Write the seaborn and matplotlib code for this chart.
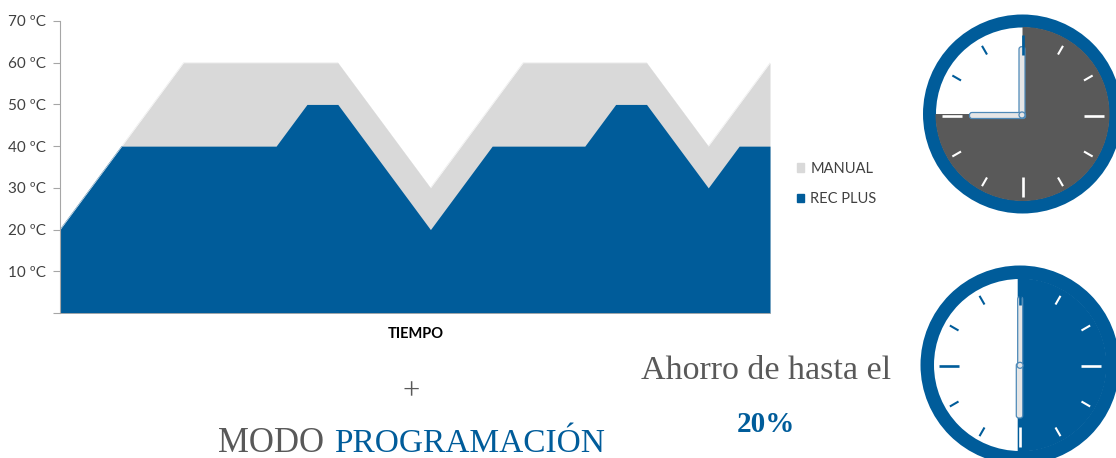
import numpy as np
import pandas as pd
import seaborn as sns
import matplotlib.pyplot as plt
from matplotlib.patches import Circle, Wedge, FancyBboxPatch, Patch

# temperature per time step
rec_plus = [20, 30, 40, 40, 40, 40, 40, 40, 50, 50, 40, 30, 20, 30, 40, 40, 40, 40, 50, 50, 40, 30, 40, 40]
manual = [20, 30, 40, 50, 60, 60, 60, 60, 60, 60, 50, 40, 30, 40, 50, 60, 60, 60, 60, 60, 50, 40, 50, 60]
y_ticks = [10, 20, 30, 40, 50, 60, 70]
hours = list(range(12))

BLUE = "#005c9a"
LIGHT = "#d9d9d9"
DARK = "#595959"
W, H = 1116, 458

sns.set_theme(style="white")
plt.rcParams["font.family"] = ["Lato", "DejaVu Sans"]

df = pd.DataFrame({"t": range(len(rec_plus)), "MANUAL": manual, "REC PLUS": rec_plus})
long_df = df.melt(id_vars="t", var_name="serie", value_name="temp")

fig = plt.figure(figsize=(W / 100, H / 100), dpi=100)
ax = fig.add_axes([60 / W, 1 - 313 / H, 710 / W, 292 / H])

sns.lineplot(data=long_df, x="t", y="temp", hue="serie", palette=[LIGHT, BLUE],
             linewidth=0.2, legend=False, ax=ax, zorder=0.5)
ax.fill_between(df["t"], 0, df["MANUAL"], color=LIGHT, linewidth=0, zorder=1)
ax.fill_between(df["t"], 0, df["REC PLUS"], color=BLUE, linewidth=0, zorder=1.1)

ax.set_xlim(0, len(rec_plus) - 1)
ax.set_ylim(0, 70)
ax.set_xticks([])
ax.set_yticks([0] + y_ticks)
ax.set_yticklabels([""] + [f"{v} ºC" for v in y_ticks], fontsize=11, color="#404040")
ax.tick_params(axis="y", left=True, length=5, width=0.8, color="#a6a6a6", pad=5)
ax.set_xlabel("")
ax.set_ylabel("")
sns.despine(ax=ax)
ax.spines["left"].set_color("#a6a6a6")
ax.spines["left"].set_linewidth(0.8)
ax.spines["bottom"].set_color("#a6a6a6")
ax.spines["bottom"].set_linewidth(0.6)

# overlay in pixel coordinates for the clocks and free text
ov = fig.add_axes([0, 0, 1, 1], facecolor="none")
ov.set_xlim(0, W)
ov.set_ylim(H, 0)
ov.axis("off")


def draw_clock(cx, cy, r_out, r_in, fill, end_angle, wedge_dx, tick_dy, hands, pin):
    ov.add_patch(Circle((cx, cy), r_out, color=BLUE, lw=0))
    ov.add_patch(Circle((cx, cy), r_in, color="white", lw=0))
    w = Wedge((cx + wedge_dx, cy), r_in + 5, -90, end_angle, color=fill, lw=0)
    ov.add_patch(w)
    w.set_clip_path(Circle((cx, cy), r_in + 0.5, transform=ov.transData))
    for h in hours:
        a = np.radians(h * 30)
        major = h % 3 == 0
        r0 = 61 if major else 71
        col = "white" if 0 < h * 30 <= end_angle + 90 else BLUE
        ov.plot([cx + r0 * np.sin(a), cx + 81 * np.sin(a)],
                [cy + tick_dy - r0 * np.cos(a), cy + tick_dy - 81 * np.cos(a)],
                color=col, lw=1.9 if major else 1.5, solid_capstyle="butt")
    for x0, y0, bw, bh in hands:
        ov.add_patch(FancyBboxPatch((cx + x0, cy + y0), bw, bh,
                                    boxstyle="round,pad=0,rounding_size=2.5",
                                    fc="#e6e6e6", ec="#4f8ab8", lw=0.9))
    ov.add_patch(Circle((cx + pin[0], cy + pin[1]), 3, fc="#e6e6e6", ec="#4f8ab8", lw=0.9))


draw_clock(1022.5, 114, 99.5, 86.5, DARK, 180, 0, 2,
           [(-3.5, -67.3, 6, 71.5), (-53, -1.5, 56, 6)], (-0.5, 1))
draw_clock(1020, 365, 99.5, 86, BLUE, 90, -2.3, 1,
           [(-2.3, -68.3, 5, 68), (-3.7, -2, 6.4, 55)], (0, 0.3))

# legend
handles = [Patch(color=LIGHT, label="MANUAL"), Patch(color=BLUE, label="REC PLUS")]
leg = fig.legend(handles=handles, loc="center left", bbox_to_anchor=(783.5 / W, 1 - 184 / H),
                 frameon=False, fontsize=10.5, labelcolor="#404040", handlelength=0.5,
                 handleheight=0.5, handletextpad=0.45, labelspacing=1.15)

fig.text(415.5 / W, 1 - 334 / H, "TIEMPO", ha="center", va="center",
         fontsize=10.5, fontweight="bold", color="black")
serif = "Liberation Serif"
fig.text(411 / W, 1 - 392 / H, "+", ha="center", va="center", fontsize=22,
         color=DARK, family=serif)
fig.text(218 / W, 1 - 452 / H, "MODO", ha="left", va="baseline", fontsize=25,
         color=DARK, family=serif)
fig.text(334 / W, 1 - 452 / H, "PROGRAMACIÓN", ha="left", va="baseline", fontsize=24,
         color=BLUE, family=serif)
fig.text(766 / W, 1 - 371 / H, "Ahorro de hasta el", ha="center", va="center", fontsize=24.5,
         color=DARK, family=serif)
fig.text(766 / W, 1 - 425 / H, "20%", ha="center", va="center", fontsize=21,
         color=BLUE, family=serif, fontweight="bold")

fig.savefig("out.png", dpi=100)
